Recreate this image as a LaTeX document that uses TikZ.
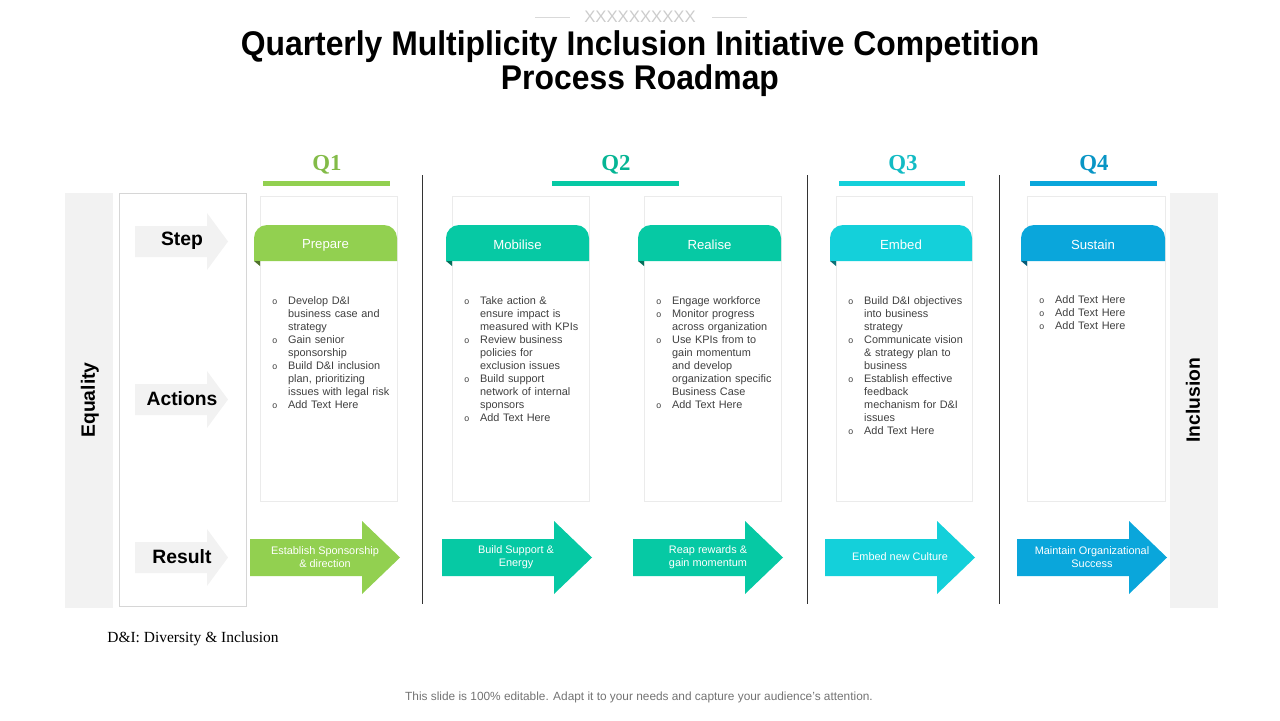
\documentclass[tikz,border=0pt]{standalone}
\usepackage{fontspec}
\setmainfont{Liberation Sans}
\newfontfamily\titlefont[FakeStretch=0.93]{Liberation Sans}
\newfontfamily\qfont{Liberation Serif}
\usetikzlibrary{positioning,calc}
\definecolor{bandgray}{HTML}{F2F2F2}
\definecolor{cardline}{HTML}{EBEBEB}
\definecolor{boxline}{HTML}{D6D6D6}
\definecolor{textgray}{HTML}{404040}
\definecolor{qone}{HTML}{92D050}
\definecolor{qtwo}{HTML}{06C9A4}
\definecolor{qthree}{HTML}{14D0DA}
\definecolor{qfour}{HTML}{0AA6DB}
\newcommand{\bitem}[1]{\par\hangindent=9pt\hangafter=1\noindent\makebox[9pt][l]{\fontsize{5}{5}\selectfont o}#1}
\tikzset{
  % Side bands and their rotated labels
  sideband/.style={fill=bandgray, draw=none},
  sidelabel/.style={rotate=90, font=\bfseries\fontsize{11}{13}\selectfont},
  % Row label arrows (light grey) and their labels
  rowarr/.style={fill=bandgray, draw=none},
  rowlabel/.style={font=\bfseries\fontsize{11}{13}\selectfont, inner sep=0pt},
  % Quarter heading and bar
  qhead/.style={font=\qfont\bfseries\fontsize{13}{15}\selectfont, inner sep=0pt},
  qbar/.style={line width=0.1cm},
  % Cards, tabs and lists
  card/.style={draw=cardline, line width=0.4pt, fill=white},
  tabtext/.style={text=white, font=\fontsize{7.5}{9}\selectfont, inner sep=0pt},
  actlist/.style={anchor=north west, inner sep=0pt, align=left, text width=3cm,
                  font=\fontsize{6.2}{7.4}\selectfont, text=textgray},
  % Result arrows
  restext/.style={text=white, align=center, font=\fontsize{6.2}{7.4}\selectfont, inner sep=0pt},
  % Quarter separators
  qsep/.style={line width=0.45pt, draw=black!80}
}
\begin{document}
\begin{tikzpicture}[x=0.02cm, y=-0.02cm]
\useasboundingbox (0,0) rectangle (1280,720);

% Heading
\node[font=\fontsize{9.5}{11}\selectfont, text=black!20, inner sep=0pt] (deco) at (640,17) {XXXXXXXXXX};
\draw[black!15, line width=0.5pt] (535,17) -- (570,17);
\draw[black!15, line width=0.5pt] (712,17) -- (747,17);
\node[font=\titlefont\bfseries\fontsize{19.5}{19.3}\selectfont, align=center, inner sep=0pt] (title) at (640,64)
  {Quarterly Multiplicity Inclusion Initiative Competition\\Process Roadmap};

% Side bands
\fill[sideband] (65,193) rectangle (113,608);
\node[sidelabel] (equality) at (90,400) {Equality};
\fill[sideband] (1170,193) rectangle (1218,608);
\node[sidelabel] (inclusion) at (1193,400) {Inclusion};

% Row labels
\draw[boxline, line width=0.5pt] (119,193) rectangle (246,606);
\fill[rowarr] (135,226) -- (207,226) -- (207,213) -- (228,241.5) -- (207,270) -- (207,257) -- (135,257) -- cycle;
\node[rowlabel] (step) at (182,241) {Step};
\fill[rowarr] (135,384) -- (207,384) -- (207,371) -- (228,399.5) -- (207,428) -- (207,415) -- (135,415) -- cycle;
\node[rowlabel] (actions) at (182,399) {Actions};
\fill[rowarr] (135,542) -- (207,542) -- (207,529) -- (228,557.5) -- (207,586) -- (207,573) -- (135,573) -- cycle;
\node[rowlabel] (result) at (182,557) {Result};

% Quarter headings
\draw[qbar, qone] (263,183) -- (390,183);
\node[qhead, text=qone!90!black] (q1) at (327,165) {Q1};
\draw[qbar, qtwo] (552,183) -- (679,183);
\node[qhead, text=qtwo!90!black] (q2) at (616,165) {Q2};
\draw[qbar, qthree] (839,183) -- (965,183);
\node[qhead, text=qthree!90!black] (q3) at (903,165) {Q3};
\draw[qbar, qfour] (1030,183) -- (1157,183);
\node[qhead, text=qfour!90!black] (q4) at (1094,165) {Q4};

% Separators
\draw[qsep] (422,175) -- (422,604);
\draw[qsep] (807,175) -- (807,604);
\draw[qsep] (999,175) -- (999,604);

% Column 1: Prepare
\draw[card] (260,196) rectangle (397,501);
\fill[qone] (254,261) [rounded corners=0.26cm] -- (254,225) -- (397,225) [sharp corners] -- (397,261) -- cycle;
\fill[qone!55!black] (254,261) -- (260,261) -- (260,266) -- cycle;
\node[tabtext] (prepare) at (325.5,245) {Prepare};
\node[actlist] (l1) at (272,291) {%
  \bitem{Develop D\&I\newline business case and\newline strategy}
  \bitem{Gain senior\newline sponsorship}
  \bitem{Build D\&I inclusion\newline plan, prioritizing\newline issues with legal risk}
  \bitem{Add Text Here}};
\fill[qone] (250,539) -- (362,539) -- (362,521) -- (400,557.5) -- (362,594) -- (362,576) -- (250,576) -- cycle;
\node[restext] (r1) at (325,557) {Establish Sponsorship\\\& direction};

% Column 2: Mobilise
\draw[card] (452,196) rectangle (589,501);
\fill[qtwo] (446,261) [rounded corners=0.26cm] -- (446,225) -- (589,225) [sharp corners] -- (589,261) -- cycle;
\fill[qtwo!55!black] (446,261) -- (452,261) -- (452,266) -- cycle;
\node[tabtext] (mobilise) at (517.5,245) {Mobilise};
\node[actlist] (l2) at (464,291) {%
  \bitem{Take action \&\newline ensure impact is\newline measured with KPIs}
  \bitem{Review business\newline policies for\newline exclusion issues}
  \bitem{Build support\newline network of internal\newline sponsors}
  \bitem{Add Text Here}};
\fill[qtwo] (442,539) -- (554,539) -- (554,521) -- (592,557.5) -- (554,594) -- (554,576) -- (442,576) -- cycle;
\node[restext] (r2) at (516,557) {Build Support \&\\Energy};

% Column 3: Realise
\draw[card] (644,196) rectangle (781,501);
\fill[qtwo] (638,261) [rounded corners=0.26cm] -- (638,225) -- (781,225) [sharp corners] -- (781,261) -- cycle;
\fill[qtwo!55!black] (638,261) -- (644,261) -- (644,266) -- cycle;
\node[tabtext] (realise) at (709.5,245) {Realise};
\node[actlist] (l3) at (656,291) {%
  \bitem{Engage workforce}
  \bitem{Monitor progress\newline across organization}
  \bitem{Use KPIs from to\newline gain momentum\newline and develop\newline organization specific\newline Business Case}
  \bitem{Add Text Here}};
\fill[qtwo] (633,539) -- (745,539) -- (745,521) -- (783,557.5) -- (745,594) -- (745,576) -- (633,576) -- cycle;
\node[restext] (r3) at (708,557) {Reap rewards \&\\gain momentum};

% Column 4: Embed
\draw[card] (836,196) rectangle (972,501);
\fill[qthree] (830,261) [rounded corners=0.26cm] -- (830,225) -- (972,225) [sharp corners] -- (972,261) -- cycle;
\fill[qthree!55!black] (830,261) -- (836,261) -- (836,266) -- cycle;
\node[tabtext] (embed) at (901,245) {Embed};
\node[actlist] (l4) at (848,291) {%
  \bitem{Build D\&I objectives\newline into business\newline strategy}
  \bitem{Communicate vision\newline \& strategy plan to\newline business}
  \bitem{Establish effective\newline feedback\newline mechanism for D\&I\newline issues}
  \bitem{Add Text Here}};
\fill[qthree] (825,539) -- (937,539) -- (937,521) -- (975,557.5) -- (937,594) -- (937,576) -- (825,576) -- cycle;
\node[restext] (r4) at (900,557) {Embed new Culture};

% Column 5: Sustain
\draw[card] (1027,196) rectangle (1165,501);
\fill[qfour] (1021,261) [rounded corners=0.26cm] -- (1021,225) -- (1165,225) [sharp corners] -- (1165,261) -- cycle;
\fill[qfour!55!black] (1021,261) -- (1027,261) -- (1027,266) -- cycle;
\node[tabtext] (sustain) at (1093,245) {Sustain};
\node[actlist] (l5) at (1039,290) {%
  \bitem{Add Text Here}
  \bitem{Add Text Here}
  \bitem{Add Text Here}};
\fill[qfour] (1017,539) -- (1129,539) -- (1129,521) -- (1167,557.5) -- (1129,594) -- (1129,576) -- (1017,576) -- cycle;
\node[restext] (r5) at (1092,557) {Maintain Organizational\\Success};

% Notes
\node[font=\qfont\fontsize{8.8}{10}\selectfont, anchor=west, inner sep=0pt] (note) at (107,639) {D\&I: Diversity \& Inclusion};
\node[font=\fontsize{6.75}{8}\selectfont, text=black!55, inner sep=0pt] (footer) at (639,697)
  {This slide is 100\% editable. Adapt it to your needs and capture your audience's attention.};

\end{tikzpicture}
\end{document}
